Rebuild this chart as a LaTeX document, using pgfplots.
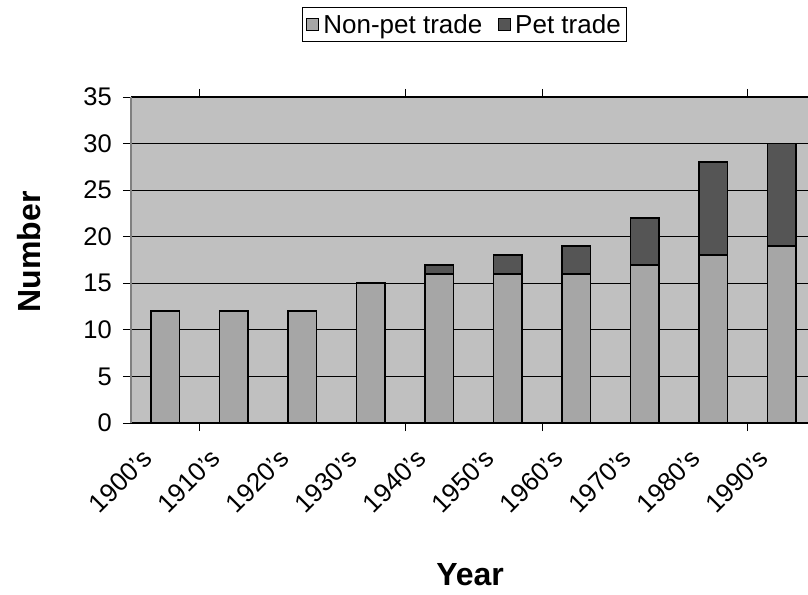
\documentclass[border=0pt]{standalone}
\usepackage{pgfplots}
\pgfplotsset{compat=1.18}
\usepackage{fontspec}
\setmainfont{Liberation Sans}
\definecolor{bg}{HTML}{C0C0C0}
\definecolor{nonpet}{HTML}{A6A6A6}
\definecolor{pet}{HTML}{555555}
\definecolor{frame}{HTML}{808080}
\begin{document}
\begin{tikzpicture}
\useasboundingbox (0,0) rectangle (808pt,594pt);
\begin{axis}[
  at={(131pt,171pt)}, anchor=south west,
  scale only axis, width=685pt, height=326pt,
  xmin=-0.5, xmax=9.5, ymin=0, ymax=35,
  ybar stacked, bar width=28.5pt,
  axis background/.style={fill=bg},
  separate axis lines,
  x axis line style={black, line width=1.2pt},
  y axis line style={frame, line width=1.4pt},
  ytick={0,5,...,35}, ytick pos=left,
  ymajorgrids, grid style={black, line width=0.9pt},
  tick align=outside, major tick length=8pt,
  ytick style={black, line width=0.9pt},
  /pgf/number format/assume math mode=true,
  yticklabel style={font=\fontsize{25.5}{25.5}\selectfont, inner sep=0pt, xshift=-11pt},
  xtick={-0.26,0.74,1.74,2.74,3.74,4.74,5.74,6.74,7.74,8.74},
  xticklabels={1900's,1910's,1920's,1930's,1940's,1950's,1960's,1970's,1980's,1990's},
  xtick style={draw=none},
  xticklabel style={yshift=-23pt, rotate=45, anchor=east, inner sep=0pt, font=\fontsize{26}{26}\selectfont},
  extra x ticks={0.5,3.5,5.5,8.5},
  extra x tick labels={},
  extra x tick style={xtick style={draw=black, line width=0.9pt}},
  ylabel={Number},
  ylabel style={at={(axis description cs:-0.149,0.525)}, anchor=center, font=\fontsize{32}{32}\selectfont\bfseries},
  xlabel={Year},
  xlabel style={at={(axis description cs:0.495,-0.466)}, anchor=center, font=\fontsize{32}{32}\selectfont\bfseries},
  legend columns=-1,
  legend style={at={(axis description cs:0.487,1.276)}, anchor=north, draw=black, line width=0.9pt,
    font=\fontsize{26}{28}\selectfont, inner xsep=4pt, inner ysep=5pt,
    /tikz/every odd column/.append style={column sep=2pt},
    /tikz/every even column/.append style={column sep=14pt}},
  legend image code/.code={\draw[#1, draw=black, line width=0.9pt] (0pt,-6pt) rectangle (12pt,6pt);},
]
\addplot[fill=nonpet, draw=black, line width=1.8pt] coordinates {(0,12) (1,12) (2,12) (3,15) (4,16) (5,16) (6,16) (7,17) (8,18) (9,19)};
\addlegendentry{Non-pet trade}
\addplot[fill=pet, draw=black, line width=1.8pt] coordinates {(0,0) (1,0) (2,0) (3,0) (4,1) (5,2) (6,3) (7,5) (8,10) (9,11)};
\addlegendentry{Pet trade}
\end{axis}
\end{tikzpicture}
\end{document}
